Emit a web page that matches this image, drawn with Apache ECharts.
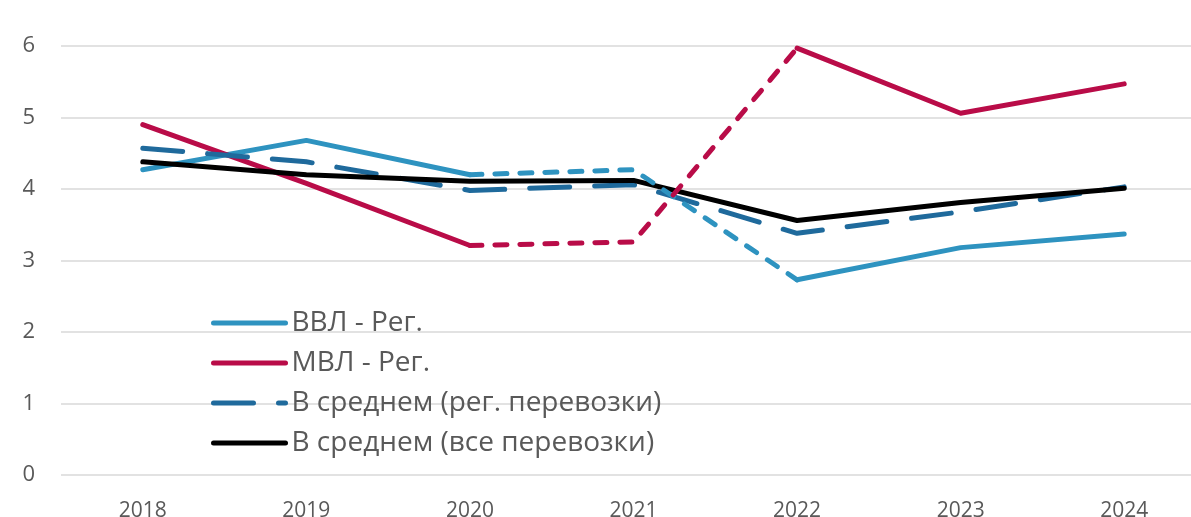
<!DOCTYPE html>
<html>
<head>
<meta charset="utf-8">
<script src="https://cdn.jsdelivr.net/npm/echarts@6/dist/echarts.min.js"></script>
<style>
  html, body { margin: 0; padding: 0; background: #fff; }
  #chart { width: 1191px; height: 517px; }
</style>
</head>
<body>
<div id="chart"></div>
<script>
// данные
const years = ['2018', '2019', '2020', '2021', '2022', '2023', '2024'];
const vvlReg = [4.27, 4.68, 4.20, 4.27, 2.73, 3.18, 3.37];
const mvlReg = [4.90, 4.08, 3.21, 3.26, 5.97, 5.06, 5.47];
const avgReg = [4.57, 4.38, 3.98, 4.06, 3.38, 3.68, 4.03];
const avgAll = [4.38, 4.20, 4.11, 4.12, 3.56, 3.81, 4.01];
const yTicks = [0, 1, 2, 3, 4, 5, 6];

const names = ['ВВЛ - Рег.', 'МВЛ - Рег.', 'В среднем (рег. перевозки)', 'В среднем (все перевозки)'];
const colors = ['#2E93C0', '#B90C48', '#1F6A9C', '#000000'];
const font = "'Open Sans', 'Noto Sans', sans-serif";

// 2020-2022 пунктиром, остальное сплошной
function solidPart(arr) {
  return arr.map((v, i) => (i === 3 ? '-' : v));
}
function dashedPart(arr) {
  return arr.map((v, i) => (i >= 2 && i <= 4 ? v : '-'));
}

function lineSeries(name, color, data, type) {
  return {
    name: name,
    type: 'line',
    data: data,
    symbol: 'none',
    showSymbol: false,
    connectNulls: false,
    lineStyle: {color: color, width: 5, type: type, cap: 'round', join: 'round'},
    itemStyle: {color: color},
    z: 3
  };
}

const series = [
  lineSeries(names[0], colors[0], solidPart(vvlReg), 'solid'),
  lineSeries(names[1], colors[1], solidPart(mvlReg), 'solid'),
  lineSeries(names[2], colors[2], avgReg, [40, 25]),
  lineSeries(names[3], colors[3], avgAll, 'solid'),
  lineSeries(names[0], colors[0], dashedPart(vvlReg), [12, 13]),
  lineSeries(names[1], colors[1], dashedPart(mvlReg), [12, 13])
];

const chart = echarts.init(document.getElementById('chart'));
chart.setOption({
  animation: false,
  textStyle: {fontFamily: font},
  grid: {left: 61, top: 46, width: 1145, height: 429, containLabel: false, outerBoundsMode: 'none'},
  xAxis: {
    type: 'category',
    data: years,
    boundaryGap: true,
    axisLine: {show: false},
    axisTick: {show: false},
    axisLabel: {color: '#595959', fontSize: 21, margin: 26, fontFamily: font}
  },
  yAxis: {
    type: 'value',
    min: yTicks[0],
    max: yTicks[yTicks.length - 1],
    interval: 1,
    axisLine: {show: false},
    axisTick: {show: false},
    axisLabel: {color: '#595959', fontSize: 22, margin: 26, fontFamily: font},
    splitLine: {lineStyle: {color: '#d9d9d9', width: 1.5}}
  },
  legend: {
    data: names,
    orient: 'vertical',
    left: 206,
    top: 303,
    itemWidth: 72,
    itemHeight: 14,
    itemGap: 10,
    itemStyle: {color: 'transparent', borderColor: 'transparent', borderWidth: 0},
    lineStyle: {width: 5, cap: 'round'},
    textStyle: {color: '#595959', fontSize: 28, lineHeight: 30, fontFamily: font, padding: [0, 0, 0, 1]},
    backgroundColor: 'transparent'
  },
  series: series
});
</script>
</body>
</html>
